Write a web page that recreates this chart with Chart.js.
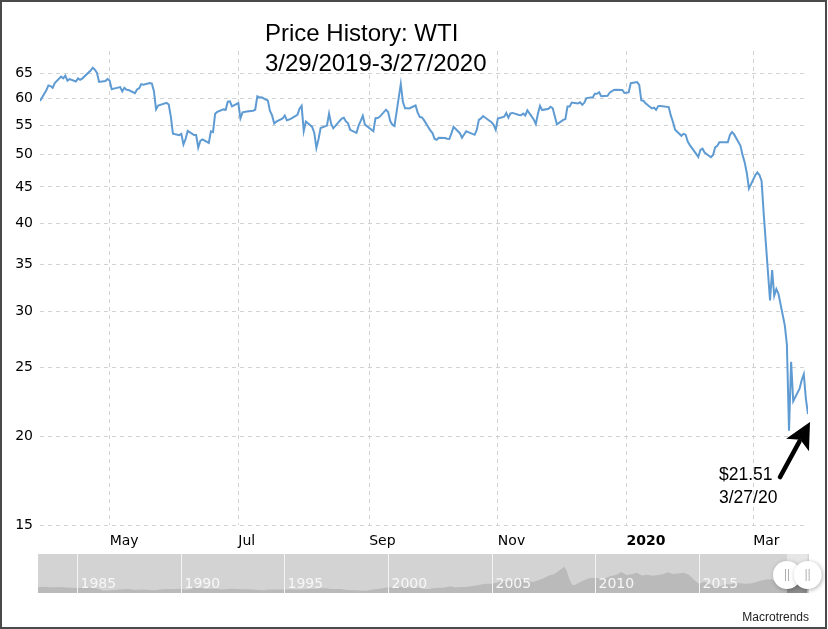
<!DOCTYPE html>
<html>
<head>
<meta charset="utf-8">
<title>Price History: WTI</title>
<script src="https://cdn.jsdelivr.net/npm/chart.js@4.4.0/dist/chart.umd.min.js"></script>
<style>
  html, body { margin: 0; padding: 0; background: #fff; }
  #wrap { position: relative; width: 828px; height: 629px; }
  #frame { position: absolute; left: 0; top: 0; width: 827px; height: 629px; box-sizing: border-box; border: 2px solid #4a4a4a; pointer-events: none; }
  #main { position: absolute; left: 0; top: 0; }
  #nav { position: absolute; left: 0; top: 540px; }
</style>
</head>
<body>
<div id="wrap">
  <canvas id="main" width="828" height="629"></canvas>
  <canvas id="nav" width="828" height="70"></canvas>
  <div id="frame"></div>
</div>
<script>
// daily WTI closes, 3/29/2019 - 3/27/2020
var dates = [
  "2019-03-29","2019-04-01","2019-04-02","2019-04-03","2019-04-04","2019-04-05","2019-04-08","2019-04-09","2019-04-10","2019-04-11",
  "2019-04-12","2019-04-15","2019-04-16","2019-04-17","2019-04-18","2019-04-22","2019-04-23","2019-04-24","2019-04-25","2019-04-26",
  "2019-04-29","2019-04-30","2019-05-01","2019-05-02","2019-05-03","2019-05-06","2019-05-07","2019-05-08","2019-05-09","2019-05-10",
  "2019-05-13","2019-05-14","2019-05-15","2019-05-16","2019-05-17","2019-05-20","2019-05-21","2019-05-22","2019-05-23","2019-05-24",
  "2019-05-28","2019-05-29","2019-05-30","2019-05-31","2019-06-03","2019-06-04","2019-06-05","2019-06-06","2019-06-07","2019-06-10",
  "2019-06-11","2019-06-12","2019-06-13","2019-06-14","2019-06-17","2019-06-18","2019-06-19","2019-06-20","2019-06-21","2019-06-24",
  "2019-06-25","2019-06-26","2019-06-27","2019-06-28","2019-07-01","2019-07-02","2019-07-03","2019-07-05","2019-07-08","2019-07-09",
  "2019-07-10","2019-07-11","2019-07-12","2019-07-15","2019-07-16","2019-07-17","2019-07-18","2019-07-19","2019-07-22","2019-07-23",
  "2019-07-24","2019-07-25","2019-07-26","2019-07-29","2019-07-30","2019-07-31","2019-08-01","2019-08-02","2019-08-05","2019-08-06",
  "2019-08-07","2019-08-08","2019-08-09","2019-08-12","2019-08-13","2019-08-14","2019-08-15","2019-08-16","2019-08-19","2019-08-20",
  "2019-08-21","2019-08-22","2019-08-23","2019-08-26","2019-08-27","2019-08-28","2019-08-29","2019-08-30","2019-09-03","2019-09-04",
  "2019-09-05","2019-09-06","2019-09-09","2019-09-10","2019-09-11","2019-09-12","2019-09-13","2019-09-16","2019-09-17","2019-09-18",
  "2019-09-19","2019-09-20","2019-09-23","2019-09-24","2019-09-25","2019-09-26","2019-09-27","2019-09-30","2019-10-01","2019-10-02",
  "2019-10-03","2019-10-04","2019-10-07","2019-10-08","2019-10-09","2019-10-10","2019-10-11","2019-10-14","2019-10-15","2019-10-16",
  "2019-10-17","2019-10-18","2019-10-21","2019-10-22","2019-10-23","2019-10-24","2019-10-25","2019-10-28","2019-10-29","2019-10-30",
  "2019-10-31","2019-11-01","2019-11-04","2019-11-05","2019-11-06","2019-11-07","2019-11-08","2019-11-11","2019-11-12","2019-11-13",
  "2019-11-14","2019-11-15","2019-11-18","2019-11-19","2019-11-20","2019-11-21","2019-11-22","2019-11-25","2019-11-26","2019-11-27",
  "2019-11-29","2019-12-02","2019-12-03","2019-12-04","2019-12-05","2019-12-06","2019-12-09","2019-12-10","2019-12-11","2019-12-12",
  "2019-12-13","2019-12-16","2019-12-17","2019-12-18","2019-12-19","2019-12-20","2019-12-23","2019-12-24","2019-12-26","2019-12-27",
  "2019-12-30","2019-12-31","2020-01-02","2020-01-03","2020-01-06","2020-01-07","2020-01-08","2020-01-09","2020-01-10","2020-01-13",
  "2020-01-14","2020-01-15","2020-01-16","2020-01-17","2020-01-21","2020-01-22","2020-01-23","2020-01-24","2020-01-27","2020-01-28",
  "2020-01-29","2020-01-30","2020-01-31","2020-02-03","2020-02-04","2020-02-05","2020-02-06","2020-02-07","2020-02-10","2020-02-11",
  "2020-02-12","2020-02-13","2020-02-14","2020-02-18","2020-02-19","2020-02-20","2020-02-21","2020-02-24","2020-02-25","2020-02-26",
  "2020-02-27","2020-02-28","2020-03-02","2020-03-03","2020-03-04","2020-03-05","2020-03-06","2020-03-09","2020-03-10","2020-03-11",
  "2020-03-12","2020-03-13","2020-03-16","2020-03-17","2020-03-18","2020-03-19","2020-03-20","2020-03-23","2020-03-24","2020-03-25",
  "2020-03-26","2020-03-27"
];
var prices = [
  59.5,61.59,62.58,62.46,62.10,63.08,64.40,64.05,64.61,63.58,
  63.89,63.40,64.05,63.76,64.00,65.70,66.30,65.89,65.21,63.30,
  63.50,63.91,63.60,61.81,61.94,62.25,61.40,62.12,61.70,61.66,
  61.04,61.78,62.02,62.87,62.76,63.10,62.99,61.42,57.91,58.63,
  59.14,58.81,56.59,53.50,53.25,53.48,51.68,52.59,53.99,53.26,
  53.27,51.14,52.28,52.51,51.93,53.90,53.76,57.07,57.43,57.90,
  57.83,59.38,59.43,58.47,59.09,56.25,57.34,57.51,57.66,57.83,
  60.43,60.20,60.21,59.58,57.62,56.78,55.30,55.63,56.22,56.77,
  55.88,56.02,56.20,56.87,58.05,58.58,53.95,55.66,54.69,53.63,
  51.09,52.54,54.50,54.93,57.10,55.23,54.47,54.87,56.21,56.34,
  55.68,55.35,54.17,53.64,54.93,55.78,56.71,55.10,53.94,56.26,
  56.30,56.52,57.85,57.40,55.75,55.09,54.85,62.90,59.34,58.11,
  58.13,58.09,58.64,57.29,56.49,56.41,55.91,54.07,53.62,52.64,
  52.45,52.81,52.75,52.63,52.59,53.55,54.70,53.59,52.81,53.36,
  53.93,53.78,53.31,54.16,55.97,56.23,56.66,55.81,55.54,55.06,
  54.18,56.20,56.54,57.23,56.35,57.15,57.24,56.86,56.80,57.12,
  56.77,57.72,56.05,55.21,57.11,58.58,57.77,58.01,58.41,58.11,
  55.17,55.96,56.10,58.43,58.43,59.20,59.02,59.24,58.76,59.18,
  60.07,60.21,60.94,60.93,61.22,60.44,60.52,61.11,61.68,61.72,
  61.68,61.06,61.18,63.05,63.27,62.70,59.61,59.56,59.04,58.08,
  58.23,57.81,58.52,58.54,58.34,56.74,55.59,54.19,53.14,53.48,
  53.33,52.14,51.56,50.11,49.61,50.75,50.95,50.32,49.57,49.94,
  51.17,51.42,52.05,52.05,53.29,53.78,53.38,51.43,49.90,48.73,
  47.09,44.76,46.75,47.18,46.78,45.90,41.28,31.13,34.36,31.6,
  32.3,31.8,28.70,26.95,20.37,25.5,22.43,23.36,24.01,24.49,
  22.60,21.51
];

var monthTicks = ["2019-05-01","2019-07-01","2019-09-01","2019-11-01","2020-01-01","2020-03-01"];
var monthLabels = ["May","Jul","Sep","Nov","2020","Mar"];
var yTicks = [15,20,25,30,35,40,45,50,55,60,65];
var titleLines = ["Price History: WTI", "3/29/2019-3/27/2020"];
var noteLines = ["$21.51", "3/27/20"];

// navigator: long history 1983-2020 (rough quarterly levels)
var navYear = [
  1983.12,1983.25,1983.5,1983.75,1984,1984.25,1984.5,1984.75,1985,1985.25,1985.5,1985.75,
  1986,1986.25,1986.5,1986.75,1987,1987.25,1987.5,1987.75,1988,1988.25,1988.5,1988.75,
  1989,1989.25,1989.5,1989.75,1990,1990.25,1990.5,1990.75,1991,1991.25,1991.5,1991.75,
  1992,1992.25,1992.5,1992.75,1993,1993.25,1993.5,1993.75,1994,1994.25,1994.5,1994.75,
  1995,1995.25,1995.5,1995.75,1996,1996.25,1996.5,1996.75,1997,1997.25,1997.5,1997.75,
  1998,1998.25,1998.5,1998.75,1999,1999.25,1999.5,1999.75,2000,2000.25,2000.5,2000.75,
  2001,2001.25,2001.5,2001.75,2002,2002.25,2002.5,2002.75,2003,2003.25,2003.5,2003.75,
  2004,2004.25,2004.5,2004.75,2005,2005.25,2005.5,2005.75,2006,2006.25,2006.5,2006.75,
  2007,2007.25,2007.5,2007.75,2008,2008.25,2008.5,2008.625,2008.75,2008.875,
  2009,2009.25,2009.5,2009.75,2010,2010.25,2010.5,2010.75,2011,2011.25,2011.5,2011.75,
  2012,2012.25,2012.5,2012.75,2013,2013.25,2013.5,2013.75,2014,2014.25,2014.5,2014.75,
  2015,2015.25,2015.5,2015.75,2016,2016.25,2016.5,2016.75,2017,2017.25,2017.5,2017.75,
  2018,2018.25,2018.5,2018.75,2019,2019.25,2019.5,2019.75,2020,2020.1,2020.235
];
var navPrice = [
  29.3,30.5,31.5,30,29.5,30.5,28.5,27.5,25.5,27.5,27,30,
  22,12.5,13,15,18,19.5,20.5,17,16.5,17.5,15,14,
  18,20,19.5,21,22,17,20,33,25,20.5,21.5,21.5,
  18.5,21,21.5,20.5,19.5,19.5,17.5,16,14.5,17.5,18.5,17.5,
  18.5,19.5,17.5,18,19,21.5,22,25,24,20,20,20.5,
  16,14.5,13.5,12,12.5,17.5,20.5,24,29,28,31,33,
  29,27.5,26.5,20,20,26,27,28.5,35,28.5,31,31,
  35,38,44,48,47,53,63,59,63,71,70,60,
  57,65,76,90,96,115,134,112,70,42,
  41,55,68,77,78,75,77,87,92,108,92,96,
  104,90,93,89,92,96,106,98,100,104,95,68,
  47,58,45,40,31,46,44,51,50,47,49,57,
  64,69,70,52,56,62,56,56,58,50,21.5
];
var navYears = [1985,1990,1995,2000,2005,2010,2015];

var startDate = dates[0];
var endDate = dates[dates.length - 1];

function dayIndex(d) {
  return Math.round((Date.parse(d) - Date.parse(startDate)) / 86400000);
}
function yearFrac(d) {
  var y = parseInt(d.slice(0, 4), 10);
  var t0 = Date.UTC(y, 0, 1), t1 = Date.UTC(y + 1, 0, 1);
  return y + (Date.parse(d) - t0) / (t1 - t0);
}

var axisFont = 'DejaVu Sans, Verdana, sans-serif';
var textFont = '"Liberation Sans", Arial, Helvetica, sans-serif';

var points = [];
for (var i in dates) {
  points.push({x: dayIndex(dates[i]), y: prices[i]});
}

var overlay = {
  id: 'overlay',
  afterDraw: function(chart) {
    var c = chart.ctx;
    c.save();
    c.fillStyle = '#000';
    c.textAlign = 'left';
    c.textBaseline = 'alphabetic';
    c.font = '24px ' + textFont;
    c.fillText(titleLines[0], 265, 41);
    c.fillText(titleLines[1], 265, 71);

    // note + arrow pinned to the last close
    var meta = chart.getDatasetMeta(0);
    var p = meta.data[meta.data.length - 1];
    var tipX = p.x + 2, tipY = p.y + 8;
    var tailX = p.x - 28, tailY = p.y + 63;
    var dx = tipX - tailX, dy = tipY - tailY;
    var len = Math.sqrt(dx * dx + dy * dy);
    var ux = dx / len, uy = dy / len;
    var headLen = 26, headW = 13;
    var bx = tipX - ux * headLen, by = tipY - uy * headLen;
    c.strokeStyle = '#000';
    c.lineWidth = 4.5;
    c.lineCap = 'round';
    c.beginPath();
    c.moveTo(tailX, tailY);
    c.lineTo(bx + ux * 4, by + uy * 4);
    c.stroke();
    c.beginPath();
    c.moveTo(tipX, tipY);
    c.lineTo(bx - uy * headW, by + ux * headW);
    c.lineTo(bx + ux * 6, by + uy * 6);
    c.lineTo(bx + uy * headW, by - ux * headW);
    c.closePath();
    c.fill();

    c.font = '17.5px ' + textFont;
    c.fillText(noteLines[0], p.x - 89, p.y + 66);
    c.fillText(noteLines[1], p.x - 89, p.y + 89);

    c.font = '12px ' + textFont;
    c.fillStyle = '#222';
    c.textAlign = 'right';
    c.fillText('Macrotrends', 809, 621);
    c.restore();
  }
};

var mainChart = new Chart(document.getElementById('main'), {
  type: 'line',
  data: {
    datasets: [{
      data: points,
      borderColor: '#5f9bd3',
      borderWidth: 2,
      pointRadius: 0,
      tension: 0,
      fill: false
    }]
  },
  options: {
    responsive: false,
    animation: false,
    layout: {padding: {top: 51, right: 20, left: 0, bottom: 0}},
    plugins: {legend: {display: false}, tooltip: {enabled: false}},
    scales: {
      x: {
        type: 'linear',
        min: 0,
        max: dayIndex(endDate),
        afterBuildTicks: function(s) {
          s.ticks = monthTicks.map(function(d) { return {value: dayIndex(d)}; });
        },
        afterFit: function(s) { s.height = 104; },
        ticks: {
          autoSkip: false,
          maxRotation: 0,
          align: 'start',
          padding: 8,
          color: '#000',
          callback: function(v, i) { return monthLabels[i]; },
          font: function(ctx) {
            return {family: axisFont, size: 14, weight: monthLabels[ctx.index] === '2020' ? 'bold' : 'normal'};
          }
        },
        grid: {color: '#d2d2d2', drawTicks: false},
        border: {display: false, dash: [4, 4]}
      },
      y: {
        type: 'logarithmic',
        min: 15,
        max: 70,
        afterBuildTicks: function(s) {
          s.ticks = yTicks.map(function(v) { return {value: v}; });
        },
        afterFit: function(s) { s.width = 40; },
        ticks: {
          padding: 7,
          color: '#000',
          font: {family: axisFont, size: 14},
          callback: function(v) { return String(v); }
        },
        grid: {color: '#d2d2d2', drawTicks: false},
        border: {display: false, dash: [4, 4]}
      }
    }
  },
  plugins: [overlay]
});

// navigator strip
var selStart = yearFrac(startDate);
var selEnd = yearFrac(endDate);

var navDeco = {
  id: 'navDeco',
  beforeDraw: function(chart) {
    var a = chart.chartArea, c = chart.ctx, xs = chart.scales.x;
    c.save();
    c.fillStyle = '#d3d3d3';
    c.fillRect(a.left, a.top, a.right - a.left, a.bottom - a.top);
    var x0 = xs.getPixelForValue(selStart), x1 = xs.getPixelForValue(selEnd);
    c.fillStyle = '#e6e6e6';
    c.fillRect(x0, a.top, x1 - x0, a.bottom - a.top);
    c.restore();
  },
  afterDraw: function(chart) {
    var a = chart.chartArea, c = chart.ctx, xs = chart.scales.x;
    c.save();
    c.strokeStyle = '#f4f4f4';
    c.lineWidth = 1;
    c.fillStyle = '#f7f7f7';
    c.font = '14px ' + axisFont;
    c.textAlign = 'left';
    c.textBaseline = 'alphabetic';
    navYears.forEach(function(y) {
      var x = Math.round(xs.getPixelForValue(y)) + 0.5;
      c.beginPath();
      c.moveTo(x, a.top);
      c.lineTo(x, a.bottom);
      c.stroke();
      c.fillText(String(y), x + 3, a.bottom - 5);
    });
    var cy = (a.top + a.bottom) / 2 + 1.5;
    [selStart, selEnd].forEach(function(v) {
      var cx = xs.getPixelForValue(v);
      c.save();
      c.shadowColor = 'rgba(0,0,0,0.3)';
      c.shadowBlur = 4;
      c.shadowOffsetX = 1;
      c.shadowOffsetY = 1;
      c.fillStyle = '#fff';
      c.beginPath();
      c.arc(cx, cy, 14, 0, Math.PI * 2);
      c.fill();
      c.restore();
      c.strokeStyle = '#b0b0b0';
      c.beginPath();
      c.moveTo(cx - 1.5, cy - 6); c.lineTo(cx - 1.5, cy + 6);
      c.moveTo(cx + 1.5, cy - 6); c.lineTo(cx + 1.5, cy + 6);
      c.stroke();
    });
    c.restore();
  }
};

var navChart = new Chart(document.getElementById('nav'), {
  type: 'line',
  data: {
    datasets: [{
      data: navYear.map(function(x, i) { return {x: x, y: navPrice[i]}; }),
      borderWidth: 0,
      borderColor: 'rgba(0,0,0,0)',
      pointRadius: 0,
      tension: 0,
      fill: 'start',
      backgroundColor: function(ctx) {
        var ch = ctx.chart, a = ch.chartArea;
        if (!a) return '#bababa';
        var f = (ch.scales.x.getPixelForValue(selStart) - a.left) / (a.right - a.left);
        f = Math.min(Math.max(f, 0), 1);
        var g = ch.ctx.createLinearGradient(a.left, 0, a.right, 0);
        g.addColorStop(0, '#bababa');
        g.addColorStop(f, '#bababa');
        g.addColorStop(f, '#8c8c8c');
        g.addColorStop(1, '#8c8c8c');
        return g;
      }
    }]
  },
  options: {
    responsive: false,
    animation: false,
    layout: {padding: {top: 14, right: 19, left: 38, bottom: 17}},
    plugins: {legend: {display: false}, tooltip: {enabled: false}},
    scales: {
      x: {type: 'linear', min: 1983.12, max: 2020.3, display: false},
      y: {type: 'linear', min: 0, max: 200, display: false}
    }
  },
  plugins: [navDeco]
});
</script>
</body>
</html>
